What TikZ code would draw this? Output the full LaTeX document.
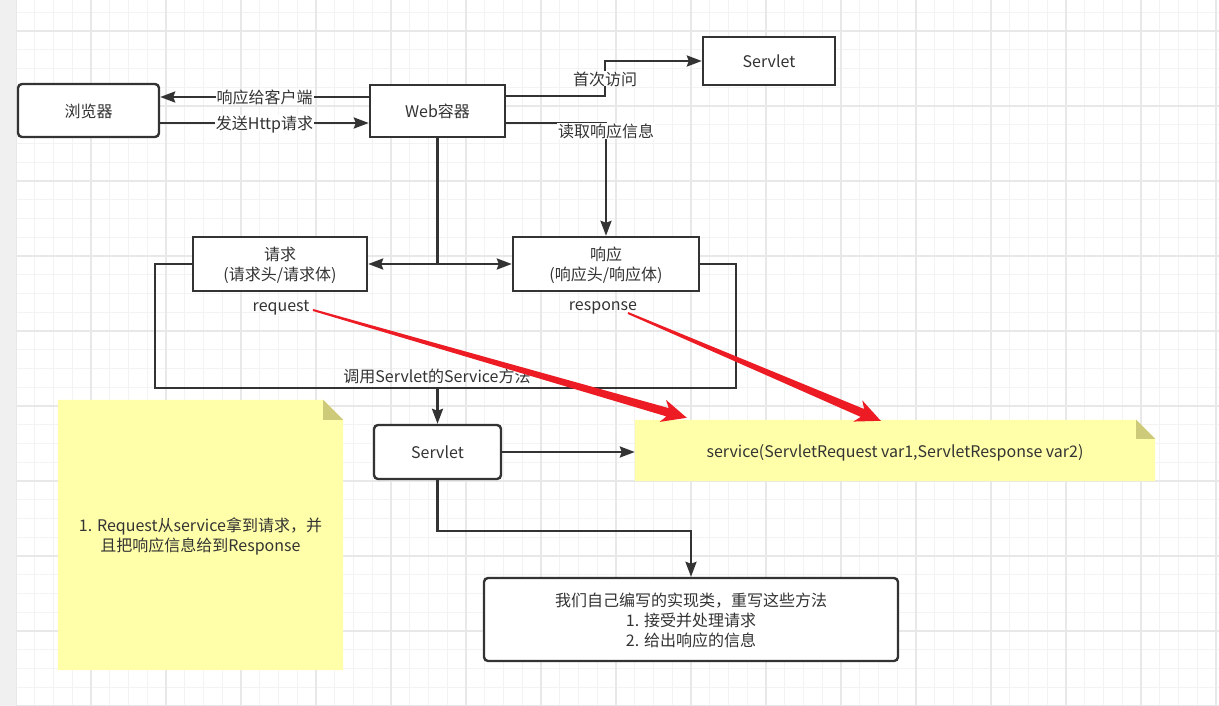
\documentclass[tikz,border=0pt]{standalone}
\usepackage{fontspec}
\setmainfont{Noto Sans CJK SC}
\usetikzlibrary{arrows.meta,calc}
\pgfdeclarelayer{gridlayer}
\pgfdeclarelayer{notelayer}
\pgfsetlayers{gridlayer,notelayer,main}
\definecolor{ink}{HTML}{333333}
\definecolor{gridminor}{HTML}{F3F3F3}
\definecolor{gridmajor}{HTML}{E8E8E8}
\definecolor{stripc}{HTML}{F0F0F0}
\definecolor{notefill}{HTML}{FFFFAA}
\definecolor{notefold}{HTML}{CDCB7A}
\definecolor{annot}{RGB}{237,28,36}
\newcommand\redarrow[2]{%
  \coordinate (ra-h) at ($(#2)!20pt!(#1)$);
  \coordinate (ra-w) at ($(#2)!25pt!(#1)$);
  \fill[annot] ($(#1)!1pt!90:(#2)$) -- ($(ra-h)!4.3pt!90:(#2)$) -- ($(ra-w)!11.5pt!90:(#2)$) -- (#2)
    -- ($(ra-w)!11.5pt!-90:(#2)$) -- ($(ra-h)!4.3pt!-90:(#2)$) -- ($(#1)!1pt!-90:(#2)$) -- cycle;
}
\begin{document}
\begin{tikzpicture}[x=1pt,y=-1pt,
  every node/.style={font=\fontsize{16}{20}\selectfont, text=ink, text depth=-1pt},
  box/.style={draw=ink, line width=2.4pt, fill=white, inner sep=0pt, align=center},
  rbox/.style={box, rounded corners=4pt},
  plain/.style={inner sep=0pt, align=center},
  lbl/.style={fill=white, inner sep=1pt},
  conn/.style={draw=ink, line width=2.4pt},
  arr/.style={conn, -{Stealth[length=15pt,width=11pt,inset=2pt]}}]
\useasboundingbox (0,0) rectangle (1219,706);
\begin{pgfonlayer}{gridlayer}
  \fill[white] (0,0) rectangle (1219,706);
  \foreach \i in {0,...,37} {\draw[gridminor, line width=1.3pt] (16,{12.25+18.75*\i}) -- (1219,{12.25+18.75*\i});}
  \foreach \i in {0,...,64} {\draw[gridminor, line width=1.3pt] ({16+18.75*\i},0) -- ({16+18.75*\i},706);}
  \foreach \i in {0,...,9} {\draw[gridmajor, line width=1.3pt] (16,{31+75*\i}) -- (1219,{31+75*\i});}
  \foreach \i in {0,...,16} {\draw[gridmajor, line width=1.3pt] ({16+75*\i},0) -- ({16+75*\i},706);}
  \fill[stripc] (0,0) rectangle (16,706);
\end{pgfonlayer}

% boxes
\node[rbox, minimum width=141pt, minimum height=53pt] (browser) at (88.5,110.5) {浏览器};
\node[box, minimum width=135pt, minimum height=52pt] (web) at (437.5,111) {Web容器};
\node[box, minimum width=132pt, minimum height=48pt] (servletTop) at (769,61) {Servlet};
\node[box, minimum width=174pt, minimum height=54pt] (req) at (280,264) {请求\\(请求头/请求体)};
\node[box, minimum width=186pt, minimum height=54pt] (resp) at (606,264) {响应\\(响应头/响应体)};
\node[plain] (reqlbl) at (281,306) {request};
\node[plain] (resplbl) at (603,306) {response};
\node[rbox, minimum width=127pt, minimum height=54pt] (servlet) at (437.5,452) {Servlet};
\node[rbox, minimum width=414pt, minimum height=83pt] (impl) at (691,619.5) {我们自己编写的实现类，重写这些方法\\1. 接受并处理请求\\2. 给出响应的信息};

% notes
\node[plain, minimum width=285pt, minimum height=270pt] (noteL) at (200.5,535) {1. Request从service拿到请求，并\\且把响应信息给到Response};
\node[plain, minimum width=520pt, minimum height=61pt] (svc) at (895,450.5) {service(ServletRequest var1,ServletResponse var2)};
\begin{pgfonlayer}{notelayer}
  \foreach \n/\f in {noteL/20, svc/19} {
    \fill[notefill] (\n.south west) -- (\n.north west) -- ([xshift=-\f pt]\n.north east) -- ([yshift=-\f pt]\n.north east) -- (\n.south east) -- cycle;
    \fill[notefold] ([xshift=-\f pt]\n.north east) -- ([yshift=-\f pt]\n.north east) -- ([xshift=-\f pt,yshift=-\f pt]\n.north east) -- cycle;
  }
\end{pgfonlayer}

% connectors browser <-> web
\coordinate (w1) at ([yshift=14pt]web.west);
\coordinate (w2) at ([yshift=-12pt]web.west);
\draw[arr] (w1) -- (w1 -| browser.east) node[midway,lbl]{响应给客户端};
\draw[arr] (w2 -| browser.east) -- (w2) node[midway,lbl]{发送Http请求};

% web -> servlet (first access)
\coordinate (wE1) at ([yshift=15pt]web.east);
\coordinate (bend1) at ([xshift=99pt]wE1);
\draw[arr] (wE1) -- (bend1) -- node[lbl]{首次访问} (bend1 |- servletTop.west) -- (servletTop.west);

% web -> response (read)
\coordinate (wE2) at ([yshift=-12pt]web.east);
\draw[arr] (wE2) -| (resp.north) node[pos=0.5,yshift=-8pt,lbl]{读取响应信息};

% web -> request / response
\coordinate (split) at (web.south |- req.east);
\draw[conn] (web.south) -- (split);
\draw[arr] (split) -- (req.east);
\draw[arr] (split) -- (resp.west);

% loop to servlet
\coordinate (loopL) at (155,388);
\coordinate (loopR) at (736,388);
\draw[conn] (req.west) -| (loopL) -- (loopR) |- (resp.east);
\node[plain] (calltxt) at (437,376) {调用Servlet的Service方法};
\draw[arr] (servlet.north |- loopL) -- (servlet.north);

\draw[arr] (servlet.east) -- (servlet.east -| svc.west);
\draw[arr] (servlet.south) -- ++(0,51) -| (impl.north);

% red annotation arrows
\coordinate (r1s) at ([xshift=32pt,yshift=-4pt]reqlbl.center);
\coordinate (r1t) at ([xshift=52pt,yshift=2pt]svc.north west);
\coordinate (r2s) at ([xshift=25pt,yshift=-7pt]resplbl.center);
\coordinate (r2t) at ([xshift=246pt,yshift=-1pt]svc.north west);
\redarrow{r1s}{r1t}
\redarrow{r2s}{r2t}
\end{tikzpicture}
\end{document}
